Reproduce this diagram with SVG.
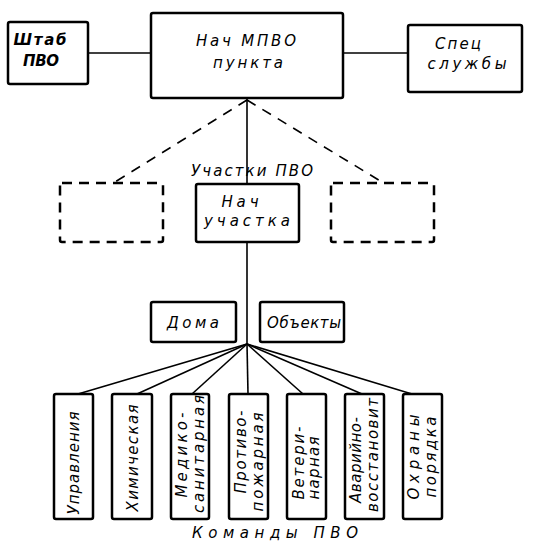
<svg xmlns="http://www.w3.org/2000/svg" width="538" height="542" viewBox="0 0 538 542">
<style>
.box{fill:#fff;stroke:#000;stroke-width:2.5}
.dbox{fill:none;stroke:#000;stroke-width:2.5;stroke-dasharray:10 7}
.ln{stroke:#000;stroke-width:1.6;fill:none}
.dl{stroke:#000;stroke-width:1.6;fill:none;stroke-dasharray:10 8}
text{font-family:"DejaVu Sans","Liberation Sans",sans-serif;font-style:italic;fill:#000}
.t{font-size:15px;text-anchor:middle}
.s{font-size:15px;text-anchor:middle}
.v{font-size:15px;text-anchor:middle}
</style>
<rect width="538" height="542" fill="#fff"/>
<g id="connectors">
<line class="ln" x1="88" y1="53" x2="151" y2="53"/>
<line class="ln" x1="343" y1="53" x2="408" y2="53"/>
<line class="ln" x1="247" y1="98" x2="247" y2="184"/>
<line class="dl" x1="247" y1="100" x2="115" y2="182"/>
<line class="dl" x1="247" y1="100" x2="382" y2="182"/>
<line class="ln" x1="247" y1="242" x2="247" y2="344"/>
<line class="ln" x1="247" y1="344" x2="78" y2="394"/>
<line class="ln" x1="247" y1="344" x2="137" y2="394"/>
<line class="ln" x1="247" y1="344" x2="192" y2="394"/>
<line class="ln" x1="247" y1="344" x2="248" y2="394"/>
<line class="ln" x1="247" y1="344" x2="303" y2="394"/>
<line class="ln" x1="247" y1="344" x2="362" y2="394"/>
<line class="ln" x1="247" y1="344" x2="412" y2="394"/>
</g>
<g id="shtab">
<rect class="box" x="8" y="22" width="80" height="62" rx="2"/>
<text class="s" x="40" y="45" font-size="16" font-weight="bold" textLength="53" lengthAdjust="spacing">Штаб</text>
<text class="s" x="41" y="66" font-size="16" font-weight="bold" textLength="36" lengthAdjust="spacing">ПВО</text>
</g>
<g id="nach-mpvo">
<rect class="box" x="151" y="13" width="192" height="85" rx="2"/>
<text class="t" x="246" y="46" textLength="100" lengthAdjust="spacing">Нач МПВО</text>
<text class="t" x="248" y="68" textLength="70" lengthAdjust="spacing">пункта</text>
</g>
<g id="spec">
<rect class="box" x="408" y="25" width="114" height="67" rx="2"/>
<text class="s" x="458" y="49" textLength="46" lengthAdjust="spacing">Спец</text>
<text class="s" x="467" y="69" textLength="79" lengthAdjust="spacing">службы</text>
</g>
<text class="s" x="252" y="176" textLength="122" lengthAdjust="spacing">Участки ПВО</text>
<g id="uch-left">
<rect class="dbox" x="60" y="183" width="103" height="59" rx="2"/>
</g>
<g id="nach-uch">
<rect class="box" x="196" y="184" width="103" height="58" rx="2"/>
<text class="s" x="240" y="207" textLength="37" lengthAdjust="spacing">Нач</text>
<text class="s" x="247" y="226" textLength="86" lengthAdjust="spacing">участка</text>
</g>
<g id="uch-right">
<rect class="dbox" x="331" y="183" width="103" height="59" rx="2"/>
</g>
<g id="doma">
<rect class="box" x="151" y="302" width="85" height="40" rx="2"/>
<text class="s" x="193" y="328" textLength="52" lengthAdjust="spacing">Дома</text>
</g>
<g id="obekty">
<rect class="box" x="260" y="302" width="84" height="40" rx="2"/>
<text class="s" x="304" y="328" textLength="74" lengthAdjust="spacing">Объекты</text>
</g>
<g id="k1">
<rect class="box" x="54" y="394" width="39" height="125" rx="2"/>
<text class="v" transform="translate(79,463) rotate(-90)" textLength="103" lengthAdjust="spacing">Управления</text>
</g>
<g id="k2">
<rect class="box" x="112" y="394" width="40" height="125" rx="2"/>
<text class="v" transform="translate(138,458) rotate(-90)" textLength="107" lengthAdjust="spacing">Химическая</text>
</g>
<g id="k3">
<rect class="box" x="171" y="394" width="38" height="125" rx="2"/>
<text class="v" transform="translate(187,455) rotate(-90)" textLength="85" lengthAdjust="spacing">Медико-</text>
<text class="v" transform="translate(204,454) rotate(-90)" textLength="118" lengthAdjust="spacing">санитарная</text>
</g>
<g id="k4">
<rect class="box" x="229" y="394" width="39" height="125" rx="2"/>
<text class="v" transform="translate(246,452) rotate(-90)" textLength="83" lengthAdjust="spacing">Противо-</text>
<text class="v" transform="translate(263,462) rotate(-90)" textLength="99" lengthAdjust="spacing">пожарная</text>
</g>
<g id="k5">
<rect class="box" x="287" y="394" width="39" height="125" rx="2"/>
<text class="v" transform="translate(304,463) rotate(-90)" textLength="73" lengthAdjust="spacing">Ветери-</text>
<text class="v" transform="translate(319,468) rotate(-90)" textLength="63" lengthAdjust="spacing">нарная</text>
</g>
<g id="k6">
<rect class="box" x="345" y="394" width="39" height="125" rx="2"/>
<text class="v" transform="translate(361,460) rotate(-90)" textLength="86" lengthAdjust="spacing">Аварийно-</text>
<text class="v" transform="translate(378,455) rotate(-90)" textLength="114" lengthAdjust="spacing">восстановит</text>
</g>
<g id="k7">
<rect class="box" x="403" y="394" width="39" height="125" rx="2"/>
<text class="v" transform="translate(419,457) rotate(-90)" textLength="85" lengthAdjust="spacing">Охраны</text>
<text class="v" transform="translate(436,457) rotate(-90)" textLength="81" lengthAdjust="spacing">порядка</text>
</g>
<text class="s" x="275" y="538" textLength="166" lengthAdjust="spacing">Команды ПВО</text>
</svg>
